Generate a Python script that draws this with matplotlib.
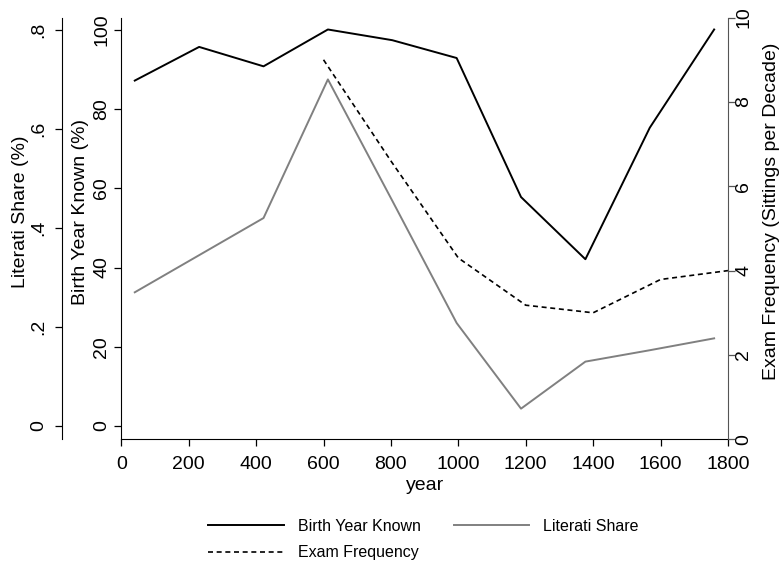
#Recreating the three series chart: birth year known, literati share and exam frequency
import matplotlib
matplotlib.use("Agg")
from matplotlib import pyplot as plt

plt.rcParams['font.family'] = ['Liberation Sans', 'DejaVu Sans']

#Data
years = [40, 231, 422, 613, 804, 995, 1186, 1377, 1568, 1759]
birthKnown = [87.2, 95.7, 90.8, 100.1, 97.4, 92.9, 57.8, 42.1, 75.3, 100.1] #percent
literatiShare = [0.27, 0.345, 0.42, 0.70, 0.455, 0.208, 0.035, 0.130, 0.153, 0.177]
examYears = [600, 800, 1000, 1200, 1400, 1600, 1800]
examFreq = [9.0, 6.6, 4.3, 3.18, 3.0, 3.79, 4.0] #sittings per decade

xTicks = list(range(0, 1801, 200))
birthTicks = [0, 20, 40, 60, 80, 100]
shareTicks = [0, 0.2, 0.4, 0.6, 0.8]
shareLabels = ["0", ".2", ".4", ".6", ".8"]
examTicks = [0, 2, 4, 6, 8, 10]

FS = 14 #axis text
LFS = 11.5 #legend text
TL = 4.8 #tick length in points
birthLim = (-3.36, 103.1)
titleY = 0.54 #axis titles sit a bit above the middle

fig = plt.figure(figsize=(7.82, 5.68), dpi=100)
ax = fig.add_axes([0.1551, 0.2266, 0.9309 - 0.1551, 0.969 - 0.2266])
axShare = ax.twinx()
axExam = ax.twinx()

#Main axis (birth year known)
lineBirth, = ax.plot(years, birthKnown, color="black", lw=1.4, zorder=3)
ax.set_xlim(0, 1800)
ax.set_ylim(*birthLim)
ax.set_xticks(xTicks)
ax.set_yticks(birthTicks)
ax.tick_params(axis='both', labelsize=FS, direction='out', length=TL, width=0.9)
ax.tick_params(axis='y', labelrotation=90, pad=3.3)
ax.tick_params(axis='x', pad=7.3)
for lab in ax.get_yticklabels():
    lab.set_va('center')
ax.set_xlabel("year", fontsize=FS, labelpad=3)
ax.set_ylabel("Birth Year Known (%)", fontsize=FS, labelpad=3, y=titleY)
ax.spines['top'].set_visible(False)
ax.spines['right'].set_visible(False)

#Second left axis pushed outward (literati share), same scale as birth / 125
lineShare, = axShare.plot(years, literatiShare, color="#808080", lw=1.4, zorder=2)
axShare.set_ylim(birthLim[0] * 0.008, birthLim[1] * 0.008)
axShare.yaxis.set_ticks_position('left')
axShare.yaxis.set_label_position('left')
axShare.spines['left'].set_position(('outward', 42.5))
for s in ['top', 'right', 'bottom']:
    axShare.spines[s].set_visible(False)
axShare.set_yticks(shareTicks)
axShare.set_yticklabels(shareLabels)
axShare.tick_params(axis='y', labelsize=FS, length=TL, width=0.9, labelrotation=90, pad=6)
for lab in axShare.get_yticklabels():
    lab.set_va('center')
axShare.set_ylabel("Literati Share (%)", fontsize=FS, labelpad=1, y=titleY)

#Right axis (exam frequency)
lineExam, = axExam.plot(examYears, examFreq, color="black", lw=1.2, ls=(0, (3, 2.2)), zorder=2)
axExam.set_ylim(0, 10)
axExam.set_yticks(examTicks)
for s in ['top', 'left', 'bottom']:
    axExam.spines[s].set_visible(False)
axExam.spines['right'].set_color("#555555")
axExam.tick_params(axis='y', labelsize=FS, length=TL, width=0.9, color="#555555", labelrotation=90, pad=0.5)
for lab in axExam.get_yticklabels():
    lab.set_va('center')
axExam.set_ylabel("Exam Frequency (Sittings per Decade)", fontsize=FS, rotation=90, labelpad=8, y=titleY)

#Legend under the plot, two columns
fig.legend([lineBirth, lineExam, lineShare], ["Birth Year Known", "Exam Frequency", "Literati Share"],
           loc='upper center', bbox_to_anchor=(0.5414, 0.1007), ncol=2, frameon=False, fontsize=LFS,
           borderpad=0, handlelength=4.73, handletextpad=0.86, columnspacing=2.07, labelspacing=0.72)

plt.savefig("out.png", dpi=100)
